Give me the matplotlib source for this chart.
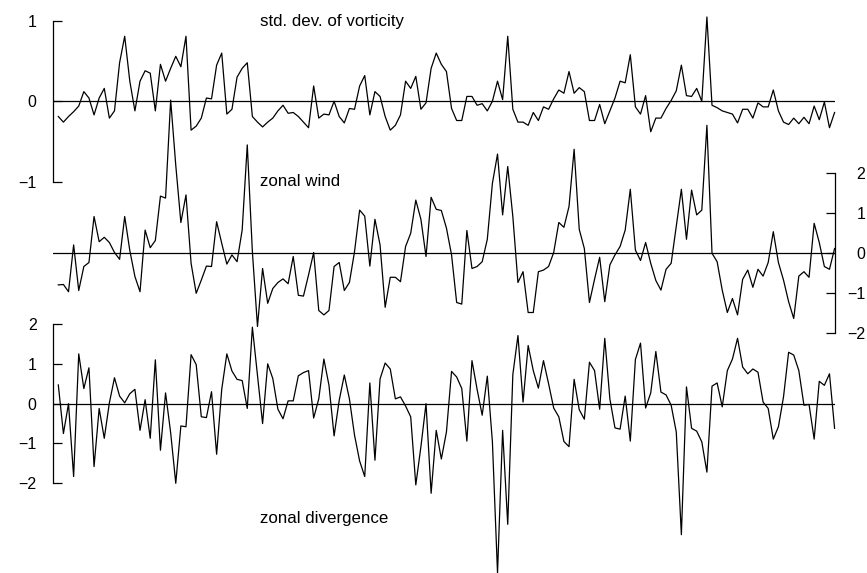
import numpy as np
import matplotlib
matplotlib.use("Agg")
import matplotlib.pyplot as plt

plt.rcParams['font.family'] = ['Liberation Sans', 'DejaVu Sans']

vorticity_sd = [-0.19,-0.26,-0.19,-0.13,-0.06,0.12,0.04,-0.17,0.04,0.16,
    -0.21,-0.12,0.48,0.81,0.25,-0.12,0.25,0.38,0.35,-0.12,
    0.46,0.25,0.41,0.56,0.43,0.81,-0.36,-0.31,-0.21,0.04,
    0.03,0.45,0.60,-0.16,-0.10,0.30,0.41,0.48,-0.19,-0.26,
    -0.32,-0.26,-0.21,-0.12,-0.05,-0.15,-0.14,-0.19,-0.26,-0.33,
    0.19,-0.21,-0.16,-0.17,0.0,-0.19,-0.27,-0.09,-0.10,0.19,
    0.32,-0.17,0.12,0.06,-0.19,-0.36,-0.30,-0.17,0.25,0.16,
    0.31,-0.10,-0.02,0.41,0.60,0.46,0.37,-0.09,-0.24,-0.24,
    0.06,0.06,-0.05,-0.03,-0.12,0.0,0.25,0.02,0.81,-0.10,
    -0.26,-0.26,-0.30,-0.14,-0.24,-0.07,-0.10,0.03,0.14,0.10,
    0.37,0.10,0.17,0.12,-0.24,-0.24,-0.04,-0.28,-0.12,0.04,
    0.25,0.23,0.58,-0.07,-0.16,0.07,-0.38,-0.21,-0.21,-0.09,
    0.01,0.13,0.45,0.07,0.06,0.16,0.0,1.05,-0.05,-0.08,
    -0.12,-0.14,-0.16,-0.27,-0.10,-0.10,-0.21,-0.02,-0.07,-0.07,
    0.14,-0.12,-0.26,-0.29,-0.21,-0.28,-0.20,-0.28,-0.06,-0.23,
    -0.01,-0.33,-0.14]

zonal_wind = [-0.79,-0.78,-0.96,0.21,-0.93,-0.33,-0.23,0.92,0.29,0.40,
    0.27,0.02,-0.15,0.92,0.07,-0.58,-0.96,0.58,0.14,0.32,
    1.43,1.38,3.83,2.2,0.77,1.46,-0.25,-1.0,-0.67,-0.32,
    -0.33,0.79,0.25,-0.27,-0.04,-0.21,0.58,2.71,0.04,-1.83,
    -0.38,-1.25,-0.88,-0.73,-0.64,-0.76,-0.08,-1.05,-1.07,-0.54,
    0.02,-1.43,-1.54,-1.43,-0.33,-0.23,-0.93,-0.73,0.04,1.08,
    0.93,-0.32,0.85,0.21,-1.35,-0.60,-0.60,-0.71,0.17,0.50,
    1.33,0.85,-0.08,1.40,1.10,1.07,0.63,-0.04,-1.23,-1.27,
    0.57,-0.38,-0.33,-0.21,0.35,1.75,2.48,0.96,2.17,0.92,
    -0.73,-0.46,-1.48,-1.48,-0.46,-0.42,-0.33,0.02,0.77,0.65,
    1.17,2.60,0.60,0.12,-1.23,-0.65,-0.10,-1.21,-0.29,-0.04,
    0.17,0.58,1.60,0.08,-0.18,0.27,-0.25,-0.68,-0.92,-0.40,
    -0.25,0.68,1.60,0.35,1.58,0.96,1.08,3.20,0.0,-0.21,
    -0.92,-1.48,-1.13,-1.54,-0.65,-0.42,-0.85,-0.40,-0.57,-0.23,
    0.54,-0.23,-0.67,-1.21,-1.63,-0.57,-0.46,-0.60,0.75,0.27,
    -0.33,-0.40,0.12]

zonal_div = [0.47,-0.75,0.0,-1.83,1.25,0.38,0.90,-1.58,-0.12,-0.87,
    0.02,0.65,0.19,0.02,0.25,0.36,-0.67,0.10,-0.87,1.10,
    -1.17,0.27,-0.73,-2.0,-0.56,-0.58,1.23,0.98,-0.33,-0.35,
    0.30,-1.27,0.36,1.25,0.82,0.61,0.58,-0.12,1.92,0.70,
    -0.50,1.0,0.63,-0.14,-0.38,0.07,0.07,0.70,0.78,0.83,
    -0.36,0.12,1.12,0.46,-0.81,0.08,0.72,0.12,-0.79,-1.44,
    -1.83,0.52,-1.42,0.62,1.02,0.87,0.12,0.17,-0.06,-0.33,
    -2.04,-1.08,0.0,-2.25,-0.67,-1.39,-0.71,0.81,0.67,0.38,
    -0.94,1.08,0.36,-0.29,0.69,-0.96,-4.25,-0.67,-3.03,0.73,
    1.71,0.04,1.46,0.83,0.39,1.08,0.50,-0.11,-0.33,-0.95,
    -1.08,0.61,-0.15,-0.39,1.04,0.83,-0.14,1.64,0.12,-0.61,
    -0.64,0.19,-0.94,1.11,1.52,-0.11,0.27,1.31,0.29,0.22,
    -0.04,-0.71,-3.29,0.42,-0.62,-0.69,-0.96,-1.72,0.44,0.52,
    -0.08,0.83,1.12,1.64,0.92,0.75,0.87,0.79,0.04,-0.12,
    -0.89,-0.58,0.17,1.29,1.22,0.83,-0.04,-0.02,-0.89,0.56,
    0.46,0.75,-0.62]

top_ticks = [-1, 0, 1]
mid_ticks = [-2, -1, 0, 1, 2]
bot_ticks = [-2, -1, 0, 1, 2]

W, H = 867, 573
fig = plt.figure(figsize=(W / 100, H / 100), dpi=100)

x = np.arange(len(vorticity_sd))
left_px, right_px = 53.3, 835.3

def make_ax(top_px, bot_px, ylim):
    ax = fig.add_axes([left_px / W, 1 - bot_px / H,
                       (right_px - left_px) / W, (bot_px - top_px) / H])
    ax.set_facecolor('none')
    ax.set_xlim(-0.98, 152.14)
    ax.set_ylim(*ylim)
    for s in ax.spines.values():
        s.set_visible(False)
    ax.set_xticks([])
    return ax

lw = 0.9
# top: std. dev. of vorticity
ax1 = make_ax(21, 181.5, (-1, 1))
ax1.plot(x, vorticity_sd, color='black', lw=lw, clip_on=False)
ax1.axhline(0, color='black', lw=lw)
ax1.spines['left'].set_visible(True)
ax1.spines['left'].set_linewidth(0.9)
ax1.set_yticks(top_ticks)
ax1.tick_params(axis='y', direction='in', length=6.5, width=0.9,
                labelsize=11.5, pad=12)

# middle: zonal wind (right axis)
ax2 = make_ax(173.3, 333.3, (-2, 2))
ax2.plot(x, zonal_wind, color='black', lw=lw, clip_on=False)
ax2.axhline(0, color='black', lw=lw)
ax2.spines['right'].set_visible(True)
ax2.spines['right'].set_linewidth(0.9)
ax2.yaxis.tick_right()
ax2.set_yticks(mid_ticks)
ax2.tick_params(axis='y', direction='in', length=6.5, width=0.9,
                labelsize=11.5, pad=21.5)
for t in ax2.get_yticklabels():
    t.set_ha('right')

# bottom: zonal divergence
ax3 = make_ax(324, 483.3, (-2, 2))
ax3.plot(x, zonal_div, color='black', lw=lw, clip_on=False)
ax3.axhline(0, color='black', lw=lw)
ax3.spines['left'].set_visible(True)
ax3.spines['left'].set_linewidth(0.9)
ax3.set_yticks(bot_ticks)
ax3.tick_params(axis='y', direction='in', length=6.5, width=0.9,
                labelsize=11.5, pad=12)

def label(txt, xpx, ypx):
    fig.text(xpx / W, 1 - ypx / H, txt, ha='left', va='baseline',
             fontsize=12.2, color='black')

label('std. dev. of vorticity', 259.5, 25.7)
label('zonal wind', 259.5, 186.5)
label('zonal divergence', 259.5, 523)

fig.savefig('out.png', dpi=100)
